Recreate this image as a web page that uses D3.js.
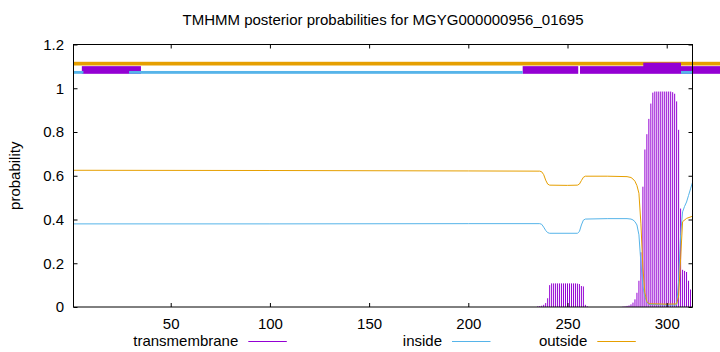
<!DOCTYPE html>
<html>
<head>
<meta charset="utf-8">
<script src="https://cdn.jsdelivr.net/npm/d3@7"></script>
<style>
  body { margin: 0; background: #fff; }
  text { font-family: "Liberation Sans", Arial, Helvetica, sans-serif; font-size: 15px; fill: #000; }
</style>
</head>
<body>
<svg id="chart" width="720" height="352"></svg>
<script>
// ---- data ----
var seqLength = 313;

// residues with a visible transmembrane probability (impulses)
var tmRes  = [235, 236, 237, 238, 239, 240, 241, 242, 243, 244, 245, 246, 247, 248, 249, 250,
              251, 252, 253, 254, 255, 256, 257, 258, 259, 260,
              278, 279, 280, 281, 282, 283, 284, 285, 286, 287, 288, 289, 290, 291, 292, 293,
              294, 295, 296, 297, 298, 299, 300, 301, 302, 303, 304, 305, 306, 307, 308, 309,
              310, 311, 312, 313];
var tmProb = [0.003, 0.004, 0.006, 0.01, 0.018, 0.04, 0.1, 0.108, 0.108, 0.108, 0.108, 0.108, 0.108, 0.108, 0.108, 0.108,
              0.108, 0.108, 0.108, 0.108, 0.107, 0.105, 0.096, 0.094, 0.01, 0.003,
              0.002, 0.003, 0.005, 0.007, 0.012, 0.02, 0.035, 0.065, 0.12, 0.25, 0.55, 0.72, 0.79, 0.86, 0.93, 0.98,
              0.985, 0.985, 0.985, 0.985, 0.985, 0.985, 0.985, 0.985, 0.985, 0.982, 0.975, 0.94, 0.81, 0.45, 0.17, 0.165,
              0.16, 0.12, 0.08, 0.05];

var insideRes  = [1, 100, 200, 236, 237, 238, 239, 240, 241, 255, 256, 257, 258, 259, 270, 280, 282, 283,
                  284, 285, 286, 287, 288, 289, 290, 291, 300, 305, 306, 307, 308, 309, 310, 311, 312, 313];
var insideProb = [0.38, 0.38, 0.381, 0.381, 0.378, 0.365, 0.35, 0.34, 0.337, 0.337, 0.345, 0.375, 0.397, 0.402, 0.404, 0.404, 0.402, 0.398,
                  0.39, 0.375, 0.33, 0.2, 0.095, 0.047, 0.022, 0.012, 0.009, 0.009, 0.12, 0.33, 0.435, 0.46, 0.48, 0.51, 0.54, 0.57];

var outsideRes  = [1, 100, 200, 236, 237, 238, 239, 240, 241, 250, 255, 256, 257, 258, 259, 270, 280, 282, 283,
                   284, 285, 286, 287, 288, 289, 290, 291, 300, 305, 306, 307, 308, 310, 313];
var outsideProb = [0.625, 0.624, 0.622, 0.621, 0.618, 0.605, 0.58, 0.562, 0.557, 0.556, 0.557, 0.562, 0.578, 0.593, 0.598, 0.598, 0.596, 0.592, 0.585,
                   0.575, 0.555, 0.52, 0.38, 0.18, 0.065, 0.025, 0.015, 0.013, 0.014, 0.05, 0.22, 0.39, 0.405, 0.415];

// topology bands above the curves (start, end residue)
var outsideBand = [[1, 330]];
var tmBand      = [[5.2, 35], [227.4, 255.4], [256.3, 330]];
var tmPeakBand  = [[288.2, 307.2]];
var insideBand  = [[1, 6], [29, 227.4], [307.2, 313]];

var xTicks = [50, 100, 150, 200, 250, 300];
var yTicks = [0, 0.2, 0.4, 0.6, 0.8, 1, 1.2];
var legendLabels = ["transmembrane", "inside", "outside"];
var legendColors = ["#9400d3", "#56b4e9", "#e69f00"];
var titleText = "TMHMM posterior probabilities for MGYG000000956_01695";

// ---- layout ----
var plotL = 73.5, plotR = 692.5, plotT = 44.5, plotB = 307;
var purple = "#9400d3", blue = "#56b4e9", orange = "#e69f00";

var svg = d3.select("#chart");
var x = d3.scaleLinear().domain([1, seqLength]).range([plotL, plotR]);
var y = d3.scaleLinear().domain([0, 1.2]).range([plotB, plotT]);

// bands
function band(g, segs, lo, hi, color) {
  g.selectAll(null).data(segs).join("rect")
    .attr("x", d => x(d[0])).attr("width", d => x(d[1]) - x(d[0]))
    .attr("y", y(hi)).attr("height", y(lo) - y(hi))
    .attr("fill", color);
}
var bands = svg.append("g");
band(bands, outsideBand, 1.104, 1.121, orange);
band(bands, tmBand, 1.066, 1.101, purple);
band(bands, insideBand, 1.066, 1.079, blue);
band(bands, tmPeakBand, 1.071, 1.117, purple);

// transmembrane impulses
var tm = tmRes.map((r, i) => [r, tmProb[i]]);
svg.append("g").selectAll("line").data(tm).join("line")
  .attr("x1", d => x(d[0])).attr("x2", d => x(d[0]))
  .attr("y1", y(0)).attr("y2", d => y(d[1]))
  .attr("stroke", purple).attr("stroke-width", 1);

var line = d3.line().x(d => x(d[0])).y(d => y(d[1]));
svg.append("path").datum(insideRes.map((r, i) => [r, insideProb[i]]))
  .attr("d", line).attr("fill", "none").attr("stroke", blue).attr("stroke-width", 1);
svg.append("path").datum(outsideRes.map((r, i) => [r, outsideProb[i]]))
  .attr("d", line).attr("fill", "none").attr("stroke", orange).attr("stroke-width", 1);

// axes (gnuplot style: inward ticks, mirrored)
var fmt = d => d3.format("~g")(d);
svg.append("g").attr("transform", "translate(" + plotL + ",0)")
  .call(d3.axisLeft(y).tickValues(yTicks).tickFormat(fmt).tickSizeInner(-4).tickSizeOuter(0).tickPadding(9.5))
  .call(g => g.select(".domain").remove());
svg.append("g").attr("transform", "translate(" + plotR + ",0)")
  .call(d3.axisRight(y).tickValues(yTicks).tickFormat("").tickSizeInner(-4).tickSizeOuter(0))
  .call(g => g.select(".domain").remove());
svg.append("g").attr("transform", "translate(0," + plotB + ")")
  .call(d3.axisBottom(x).tickValues(xTicks).tickFormat(fmt).tickSizeInner(-4).tickSizeOuter(0).tickPadding(11))
  .call(g => g.select(".domain").remove());
svg.append("g").attr("transform", "translate(0," + plotT + ")")
  .call(d3.axisTop(x).tickValues(xTicks).tickFormat("").tickSizeInner(-4).tickSizeOuter(0))
  .call(g => g.select(".domain").remove());
svg.selectAll(".tick text").attr("font-size", null).attr("font-family", null);
svg.selectAll(".tick line").attr("stroke", "#000");

svg.append("rect")
  .attr("x", plotL).attr("y", plotT).attr("width", plotR - plotL).attr("height", plotB - plotT)
  .attr("fill", "none").attr("stroke", "#000").attr("stroke-width", 1);

// title and y label
svg.append("text").attr("x", (plotL + plotR) / 2).attr("y", 25)
  .attr("text-anchor", "middle").text(titleText);
svg.append("text").attr("transform", "translate(19.5," + ((plotT + plotB) / 2) + ") rotate(-90)")
  .attr("text-anchor", "middle").text("probability");

// legend
var legendTextEnd = [238.3, 442, 587.3];
var leg = svg.append("g").selectAll("g").data(legendLabels).join("g");
leg.append("text").attr("x", (d, i) => legendTextEnd[i]).attr("y", 346)
  .attr("text-anchor", "end").text(d => d);
leg.append("line")
  .attr("x1", (d, i) => legendTextEnd[i] + 10).attr("x2", (d, i) => legendTextEnd[i] + 48.5)
  .attr("y1", 341.5).attr("y2", 341.5)
  .attr("stroke", (d, i) => legendColors[i]).attr("stroke-width", 1);
</script>
</body>
</html>
